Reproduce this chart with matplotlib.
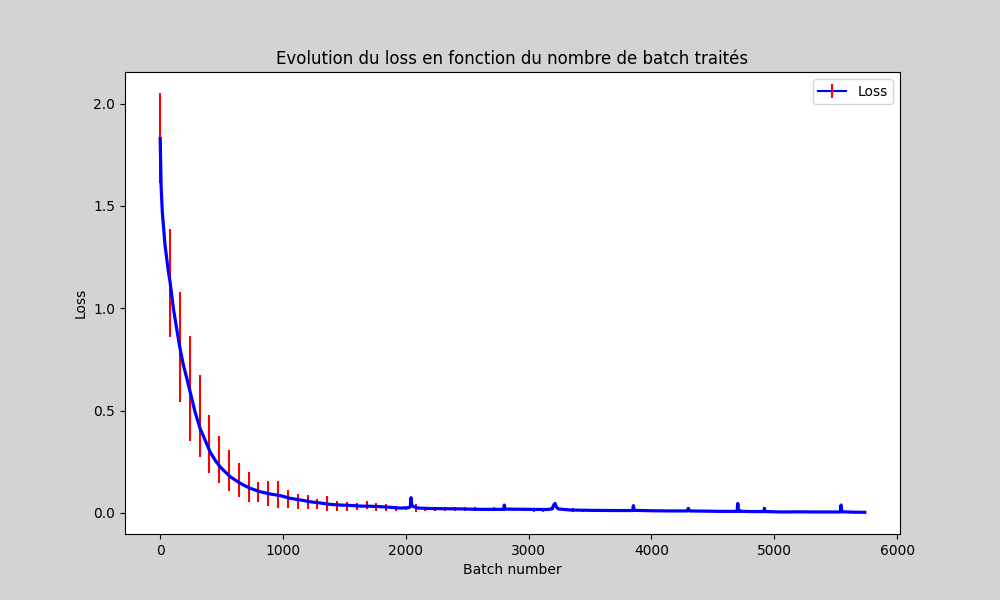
import numpy as np
import matplotlib
matplotlib.use("Agg")
import matplotlib.pyplot as plt
from matplotlib.lines import Line2D
from matplotlib.legend_handler import HandlerTuple

# loss per batch (spikes included)
batch = [0, 7, 17, 39, 66, 80, 107, 134, 161, 188, 216, 243, 283, 324, 365, 405,
         446, 487, 527, 568, 623, 677, 731, 813, 894, 976, 1057, 1138, 1220, 1301,
         1383, 1464, 1546, 1627, 1708, 1790, 1871, 1953, 2020, 2036, 2042, 2048,
         2062, 2102, 2200, 2306, 2450, 2578, 2713, 2796, 2802, 2808, 2985, 3150,
         3190, 3205, 3215, 3225, 3240, 3337, 3500, 3700, 3846, 3853, 3860, 4000,
         4150, 4290, 4300, 4310, 4450, 4559, 4697, 4703, 4709, 4800, 4914, 4920,
         4926, 5061, 5200, 5350, 5538, 5544, 5550, 5650, 5737]
loss = [1.83, 1.60, 1.47, 1.31, 1.18, 1.13, 1.00, 0.90, 0.805, 0.724, 0.659, 0.593,
        0.495, 0.414, 0.357, 0.300, 0.259, 0.226, 0.202, 0.178, 0.156, 0.137, 0.121,
        0.104, 0.093, 0.085, 0.072, 0.064, 0.055, 0.049, 0.042, 0.039, 0.037, 0.034,
        0.033, 0.031, 0.028, 0.024, 0.026, 0.030, 0.075, 0.040, 0.031, 0.024, 0.022,
        0.021, 0.020, 0.018, 0.0176, 0.018, 0.039, 0.019, 0.018, 0.017, 0.020, 0.040,
        0.047, 0.030, 0.020, 0.0147, 0.013, 0.012, 0.012, 0.036, 0.013, 0.011, 0.010,
        0.010, 0.023, 0.010, 0.009, 0.008, 0.008, 0.047, 0.009, 0.007, 0.007, 0.023,
        0.007, 0.005, 0.0055, 0.005, 0.005, 0.039, 0.006, 0.004, 0.0034]

# error bars every 80 batches: lower and upper ends
err_batch = list(range(0, 5681, 80))
err_low = [1.612, 0.862, 0.541, 0.354, 0.275, 0.194, 0.148, 0.109, 0.080, 0.055,
           0.055, 0.036, 0.026, 0.026, 0.020, 0.018, 0.018, 0.010, 0.010, 0.010,
           0.013, 0.018, 0.010, 0.010, 0.010, 0.015, 0.006, 0.010, 0.012,
           0.010, 0.010, 0.010, 0.008, 0.008, 0.008, 0.009, 0.008, 0.008, 0.007,
           0.004, 0.013, 0.008, 0.006, 0.006, 0.005, 0.005, 0.005, 0.005, 0.005,
           0.004, 0.004, 0.004, 0.004, 0.004, 0.003, 0.003, 0.003, 0.002, 0.002,
           0.002, 0.002, 0.002, 0.002, 0.001, 0.001, 0.001, 0.001, 0.001, 0.001,
           0.001, 0.001, 0.000]
err_high = [2.052, 1.389, 1.079, 0.866, 0.675, 0.479, 0.377, 0.308, 0.243, 0.199,
            0.153, 0.158, 0.158, 0.114, 0.093, 0.088, 0.068, 0.083, 0.059, 0.052,
            0.049, 0.059, 0.049, 0.046, 0.034, 0.030, 0.046, 0.030, 0.030,
            0.030, 0.028, 0.028, 0.030, 0.026, 0.028, 0.030, 0.026, 0.025, 0.025,
            0.024, 0.030, 0.024, 0.022, 0.020, 0.020, 0.019, 0.019, 0.018, 0.020,
            0.018, 0.017, 0.017, 0.016, 0.016, 0.017, 0.015, 0.015, 0.014, 0.014,
            0.018, 0.013, 0.013, 0.013, 0.012, 0.012, 0.011, 0.011, 0.011, 0.011,
            0.012, 0.010, 0.010]

fig, ax = plt.subplots(figsize=(10, 6), dpi=100)
fig.patch.set_facecolor('lightgray')

ax.vlines(err_batch, err_low, err_high, color='red', linewidth=1.5)
ax.plot(batch, loss, color='blue', linewidth=2.3)

ax.set_title('Evolution du loss en fonction du nombre de batch traités')
ax.set_xlabel('Batch number')
ax.set_ylabel('Loss')

h_line = Line2D([], [], color='blue', linewidth=1.5)
h_bar = Line2D([], [], color='red', marker='|', markersize=10,
               markeredgewidth=1.5, linestyle='none')
ax.legend([(h_line, h_bar)], ['Loss'], loc='upper right',
          handler_map={tuple: HandlerTuple(ndivide=1)})

fig.savefig('out.png', dpi=100)
